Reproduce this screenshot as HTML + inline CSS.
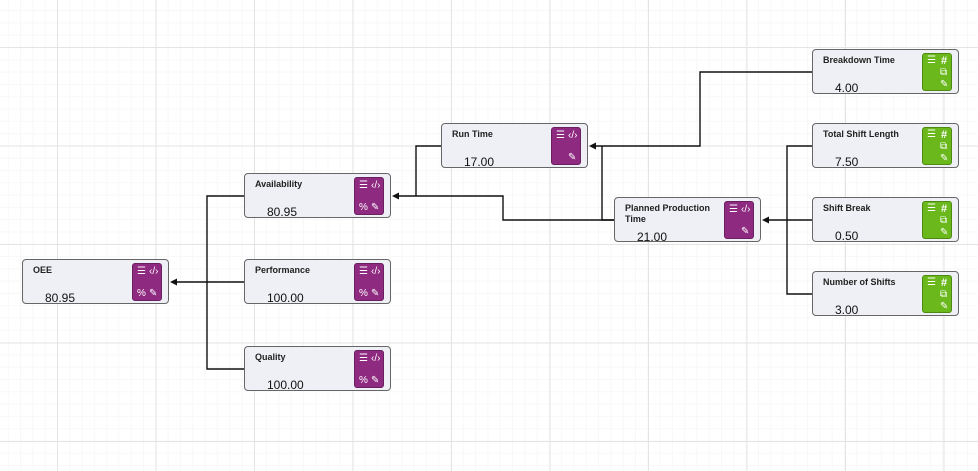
<!DOCTYPE html>
<html><head><meta charset="utf-8"><style>
html,body{margin:0;padding:0}
body{width:978px;height:471px;overflow:hidden;position:relative;font-family:"Liberation Sans",sans-serif;
background-color:#fff;
background-image:
linear-gradient(to right,#e4e4e4 1px,transparent 1px),
linear-gradient(to bottom,#e4e4e4 1px,transparent 1px),
linear-gradient(to right,#f8f8f8 1px,transparent 1px),
linear-gradient(to bottom,#f8f8f8 1px,transparent 1px);
background-size:98.5px 98.5px,98.5px 98.5px,12.31px 12.31px,12.31px 12.31px;
background-position:57px 47px,57px 47px,57px 47px,57px 47px;}
.n{position:absolute;width:145px;height:43px;border:1.5px solid #666;border-radius:4px;background:#eff0f5;box-sizing:content-box}
.t{position:absolute;left:10px;top:5px;font-size:9px;font-weight:bold;color:#222;line-height:11px;width:100px}
.v{position:absolute;left:22px;top:31px;font-size:12px;color:#111}
.p{position:absolute;left:109px;top:3px;width:30px;height:38px;border-radius:3px;background:#8e2a80;border:1px solid #6a1f60;box-sizing:border-box}
.p.g{background:#6ab81c;border-color:#4d8a12}
.i{position:absolute;color:#fff;font-size:10px;line-height:10px}
</style></head><body>
<svg width="978" height="471" style="position:absolute;left:0;top:0">
<g fill="none" stroke="#111" stroke-width="1.4">
<path d="M244 196H207V369H244M244 282H172"/>
<path d="M441 146H416V196H394M614 220H503V196H394"/>
<path d="M812 72H700V146H591M614 220H602V146"/>
<path d="M812 146H787V294H812M812 220H764"/>
</g>
<g fill="#111">
<path d="M170 282l7-3.5v7z"/><path d="M392 196l7-3.5v7z"/><path d="M589 146l7-3.5v7z"/><path d="M762 220l7-3.5v7z"/>
</g>
</svg>

<div class="n" style="left:22px;top:259px"><div class="t">OEE</div><div class="v">80.95</div><div class="p"><span class="i" style="left:4px;top:3px">☰</span><span class="i" style="left:16px;top:3px">‹/›</span><span class="i" style="left:4px;top:25px">%</span><span class="i" style="left:16px;top:25px">✎</span></div></div>
<div class="n" style="left:244px;top:173px"><div class="t">Availability</div><div class="v">80.95</div><div class="p"><span class="i" style="left:4px;top:3px">☰</span><span class="i" style="left:16px;top:3px">‹/›</span><span class="i" style="left:4px;top:25px">%</span><span class="i" style="left:16px;top:25px">✎</span></div></div>
<div class="n" style="left:244px;top:259px"><div class="t">Performance</div><div class="v">100.00</div><div class="p"><span class="i" style="left:4px;top:3px">☰</span><span class="i" style="left:16px;top:3px">‹/›</span><span class="i" style="left:4px;top:25px">%</span><span class="i" style="left:16px;top:25px">✎</span></div></div>
<div class="n" style="left:244px;top:346px"><div class="t">Quality</div><div class="v">100.00</div><div class="p"><span class="i" style="left:4px;top:3px">☰</span><span class="i" style="left:16px;top:3px">‹/›</span><span class="i" style="left:4px;top:25px">%</span><span class="i" style="left:16px;top:25px">✎</span></div></div>
<div class="n" style="left:441px;top:123px"><div class="t">Run Time</div><div class="v">17.00</div><div class="p"><span class="i" style="left:4px;top:3px">☰</span><span class="i" style="left:16px;top:3px">‹/›</span><span class="i" style="left:16px;top:25px">✎</span></div></div>
<div class="n" style="left:614px;top:197px"><div class="t" style="top:5px">Planned Production Time</div><div class="v" style="top:32px">21.00</div><div class="p"><span class="i" style="left:4px;top:3px">☰</span><span class="i" style="left:16px;top:3px">‹/›</span><span class="i" style="left:16px;top:25px">✎</span></div></div>

<div class="n" style="left:812px;top:49px"><div class="t">Breakdown Time</div><div class="v">4.00</div><div class="p g"><span class="i" style="left:4px;top:2px">☰</span><span class="i" style="left:18px;top:2px;font-weight:bold;font-size:11px">#</span><span class="i" style="left:17px;top:14px">⧉</span><span class="i" style="left:17px;top:26px">✎</span></div></div>
<div class="n" style="left:812px;top:123px"><div class="t">Total Shift Length</div><div class="v">7.50</div><div class="p g"><span class="i" style="left:4px;top:2px">☰</span><span class="i" style="left:18px;top:2px;font-weight:bold;font-size:11px">#</span><span class="i" style="left:17px;top:14px">⧉</span><span class="i" style="left:17px;top:26px">✎</span></div></div>
<div class="n" style="left:812px;top:197px"><div class="t">Shift Break</div><div class="v">0.50</div><div class="p g"><span class="i" style="left:4px;top:2px">☰</span><span class="i" style="left:18px;top:2px;font-weight:bold;font-size:11px">#</span><span class="i" style="left:17px;top:14px">⧉</span><span class="i" style="left:17px;top:26px">✎</span></div></div>
<div class="n" style="left:812px;top:271px"><div class="t">Number of Shifts</div><div class="v">3.00</div><div class="p g"><span class="i" style="left:4px;top:2px">☰</span><span class="i" style="left:18px;top:2px;font-weight:bold;font-size:11px">#</span><span class="i" style="left:17px;top:14px">⧉</span><span class="i" style="left:17px;top:26px">✎</span></div></div>
</body></html>
